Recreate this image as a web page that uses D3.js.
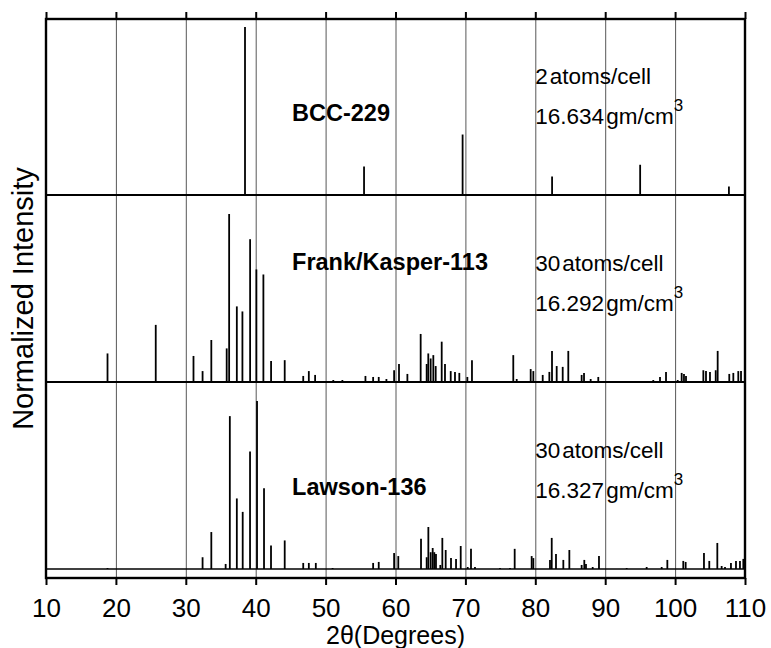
<!DOCTYPE html>
<html><head><meta charset="utf-8">
<script src="https://cdn.jsdelivr.net/npm/d3@7"></script>
<style>
body{margin:0;background:#fff}
text{font-family:"Liberation Sans",Arial,Helvetica,sans-serif;fill:#000}
</style>
</head><body>
<svg id="chart" width="771" height="648"></svg>
<script>
// ---- data ----
const xTicks = [10,20,30,40,50,60,70,80,90,100,110];
const panelNames = ["BCC-229","Frank/Kasper-113","Lawson-136"];
const atomsPerCell = ["2","30","30"];
const densities = ["16.634","16.292","16.327"];

const bccPos = [38.47, 55.5, 69.6, 82.4, 95.0, 107.7];
const bccInt = [100, 17, 36, 11, 18, 5];

const fkPos = [16.6,18.8,20.8,24.45,25.7,27.5,31.1,32.4,33.65,35.85,36.2,37.3,38.1,39.2,40.1,41.1,42.2,43.1,44.15,45.2,
  46.8,47.6,48.5,51.1,52.4,53.2,55.7,56.8,57.6,58.7,59.8,60.5,61.7,63.6,64.46,64.69,65.03,65.41,65.75,66.61,67.08,67.9,
  68.51,69.13,70.28,70.94,72.56,74.47,76.85,77.34,79.34,79.72,81.06,82.01,82.39,83.06,83.92,84.72,86.63,86.97,87.92,
  89.01,91.16,94.02,96.88,97.84,98.7,100.37,100.94,101.27,101.56,104.04,104.42,104.99,105.81,106.09,107.75,108.33,109.04,109.43];
const fkInt = [0.6,17,0.6,0.6,34,0.6,15.5,6.5,25,20,100,45,42,85,67,64,12.5,0.6,13,0.6,
  3.6,6.5,4.2,1.2,1.2,0.6,3.6,3,3,1.8,7,10.7,4.8,28.6,10.7,17,14,16,9.5,24,10.7,6.5,
  6,5.4,3,13,0.6,0.6,16,1.8,7.7,6.5,4.2,6,18.5,9.5,9,18.5,4.2,5.4,1.8,
  3,0.6,0.6,1.2,3,6,1.2,5.4,4.8,3.6,7,6.5,6,7,18.5,4.8,5.4,6.5,6.5];

const lawPos = [18.8,32.4,33.65,35.7,36.3,37.3,38.14,39.19,40.19,41.19,42.19,44.15,46.8,47.6,48.6,51.0,56.8,57.6,59.8,60.4,
  63.65,64.46,64.7,65.03,65.32,65.55,65.79,66.41,66.7,67.18,67.94,68.66,69.33,70.33,70.8,71.37,74.95,76.38,77.05,79.48,79.72,
  82.1,82.35,82.96,84.01,84.87,86.63,87.01,87.25,88.21,89.11,93.07,95.93,98.08,98.89,101.17,101.51,104.13,104.89,106.04,
  106.66,107.14,107.99,108.71,109.28,109.76];
const lawInt = [0.6,7,22,3,91,42,34,70,100,48,14,17,3.6,3.6,3.6,0.6,3.6,4.2,9.5,7.7,
  18,7,25,10,12.5,10,9,2.4,18.5,11.3,6.5,6,13.7,1.2,12,1.2,0.6,0.6,12,7.7,6.5,
  5.4,18.5,9,5.4,11.3,2.4,5.4,3,1.2,7.7,0.6,1.2,1.2,5.4,4.8,4.2,9.5,4.8,15.5,
  1.8,1.2,3.6,4.8,4.8,6];

const series = [
  {pos: bccPos, val: bccInt},
  {pos: fkPos, val: fkInt},
  {pos: lawPos, val: lawInt}
];

// ---- layout ----
const L = 46, R = 745, T = 19, B = 578;
const baselines = [195, 382, 569];
const peakH = 168;

const svg = d3.select("#chart");
const x = d3.scaleLinear().domain([10,110]).range([L,R]);

// gridlines
svg.append("g")
  .attr("transform", `translate(0,${B})`)
  .call(d3.axisBottom(x).tickValues(xTicks.slice(1,-1)).tickSize(-(B-T)).tickFormat(""))
  .call(g => g.select(".domain").remove())
  .call(g => g.selectAll("line").attr("stroke","#444").attr("stroke-width",0.9));

// bars
series.forEach((s, i) => {
  const y = d3.scaleLinear().domain([0,100]).range([baselines[i], baselines[i]-peakH]);
  svg.append("g").selectAll("line")
    .data(s.pos.map((p,j)=>({p, v:s.val[j]})))
    .join("line")
    .attr("x1", d=>x(d.p)).attr("x2", d=>x(d.p))
    .attr("y1", y(0)).attr("y2", d=>y(d.v))
    .attr("stroke","#000").attr("stroke-width",1.8);
});

// frame and dividers
const frame = svg.append("g").attr("stroke","#000").attr("fill","none");
frame.append("rect").attr("x",L).attr("y",T).attr("width",R-L).attr("height",B-T).attr("stroke-width",2.4);
frame.append("line").attr("x1",L).attr("x2",R).attr("y1",baselines[0]).attr("y2",baselines[0]).attr("stroke-width",2.2);
frame.append("line").attr("x1",L).attr("x2",R).attr("y1",baselines[1]).attr("y2",baselines[1]).attr("stroke-width",2.2);
frame.append("line").attr("x1",L).attr("x2",R).attr("y1",baselines[2]).attr("y2",baselines[2]).attr("stroke-width",1.4);

// top ticks
svg.append("g")
  .attr("transform", `translate(0,${T})`)
  .call(d3.axisTop(x).tickValues(xTicks).tickSize(7).tickSizeOuter(0).tickFormat(""))
  .call(g => g.select(".domain").remove())
  .call(g => g.selectAll("line").attr("stroke","#000").attr("stroke-width",2));

// bottom axis
svg.append("g")
  .attr("transform", `translate(0,${B})`)
  .call(d3.axisBottom(x).tickValues(xTicks).tickSize(7).tickSizeOuter(0).tickPadding(14).tickFormat(d3.format("d")))
  .call(g => g.select(".domain").remove())
  .call(g => g.selectAll("line").attr("stroke","#000").attr("stroke-width",2))
  .call(g => g.selectAll("text").attr("font-size",26).attr("font-family","Liberation Sans, Arial, sans-serif").attr("fill","#000"));

// axis titles
svg.append("text").attr("x", x(60)).attr("y", 644).attr("text-anchor","middle")
  .attr("font-size",25).text("2θ(Degrees)");
svg.append("text").attr("transform", `translate(33,${(T+B)/2}) rotate(-90)`)
  .attr("text-anchor","middle").attr("font-size",29).text("Normalized Intensity");

// panel annotations
const nameOffset = [74, 112, 74];
panelNames.forEach((n, i) => {
  const b = baselines[i];
  svg.append("text").attr("x", x(45.2)).attr("y", b - nameOffset[i])
    .attr("font-size",23.5).attr("font-weight","bold").text(n);
  const t1 = svg.append("text").attr("x", x(80)).attr("y", b - 111).attr("font-size",22.5);
  t1.append("tspan").text(atomsPerCell[i]);
  t1.append("tspan").attr("dx",2).text("atoms/cell");
  const t2 = svg.append("text").attr("x", x(80)).attr("y", b - 71).attr("font-size",22.5);
  t2.append("tspan").text(densities[i]);
  t2.append("tspan").attr("dx",2).text("gm/cm");
  t2.append("tspan").attr("dy",-13).attr("font-size",17).text("3");
});
</script>
</body></html>
